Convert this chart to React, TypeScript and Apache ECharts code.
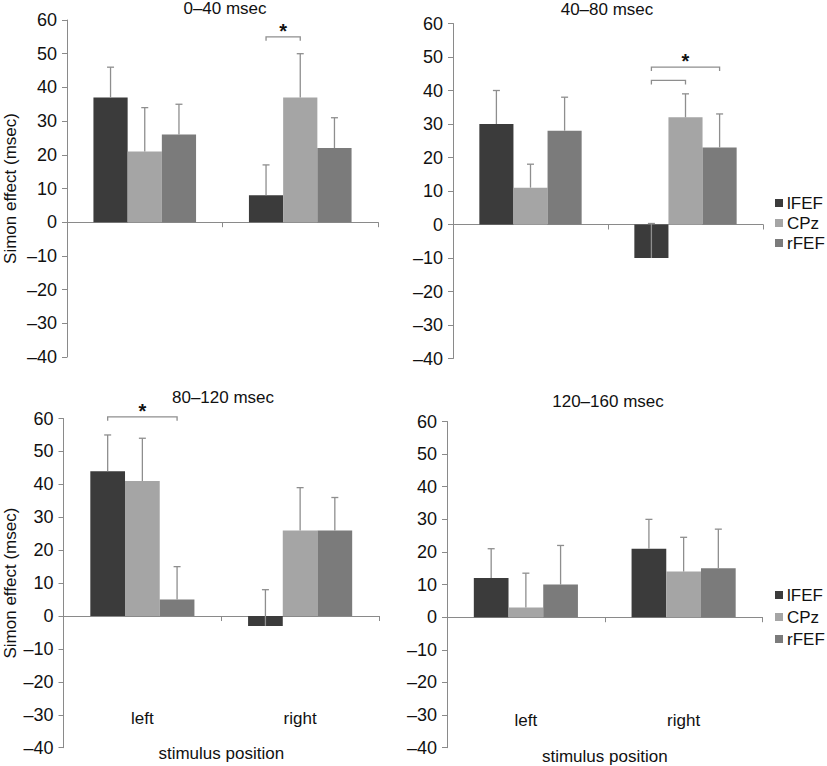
import React, { useEffect, useRef } from "react";
import * as echarts from "echarts";

// ---------- data ----------
const categories = ["left", "right"];
const seriesNames = ["lFEF", "CPz", "rFEF"];
const seriesColors = ["#3b3b3b", "#a5a5a5", "#7b7b7b"];
const panelTitles = ["0–40 msec", "40–80 msec", "80–120 msec", "120–160 msec"];
const yTicks = { min: -40, max: 60, interval: 10 };

// mean values per panel: [lFEF, CPz, rFEF], each [left, right]
const p1Values = [[37, 8], [21, 37], [26, 22]];
const p2Values = [[30, -10], [11, 32], [28, 23]];
const p3Values = [[44, -3], [41, 26], [5, 26]];
const p4Values = [[12, 21], [3, 14], [10, 15]];
// upper end of error bar per panel
const p1ErrTop = [[46, 17], [34, 50], [35, 31]];
const p2ErrTop = [[40, 0.3], [18, 39], [38, 33]];
const p3ErrTop = [[55, 8], [54, 39], [15, 36]];
const p4ErrTop = [[21, 30], [13.5, 24.5], [22, 27]];
// significance brackets: [category, fromSeries, toSeries, level, star(1/0)]
const p1Brackets = [[1, 0, 1, 55, 1]];
const p2Brackets = [[1, 0, 2, 47, 1], [1, 0, 1, 43, 0]];
const p3Brackets = [[0, 0, 2, 60.5, 1]];
const p4Brackets: number[][] = [];

const panelValues = [p1Values, p2Values, p3Values, p4Values];
const panelErrTop = [p1ErrTop, p2ErrTop, p3ErrTop, p4ErrTop];
const panelBrackets = [p1Brackets, p2Brackets, p3Brackets, p4Brackets];

// ---------- layout / style ----------
const FONT = "'Liberation Sans', Arial, sans-serif";
const AXIS_COLOR = "#8a8a8a";
const TEXT_COLOR = "#111";
const CAT_GAP = 0.34;

const grids = [
  { left: 67, top: 20, width: 311, height: 337 },
  { left: 453, top: 23.5, width: 310, height: 335 },
  { left: 63.5, top: 418.5, width: 315.5, height: 329.2 },
  { left: 447, top: 421.5, width: 315.5, height: 326.2 },
];
const titlePos = [
  { x: 225, y: 0 },
  { x: 607, y: 1 },
  { x: 223, y: 389 },
  { x: 608, y: 392.5 },
];
const xLabelMargin = [0, 0, -38, -36];
const xNameGap = [0, 0, -3, 0];
const yNameGap = [48, 0, 45, 0];

function barCenter(api: any, cat: number, s: number) {
  const base = api.coord([cat, 0]);
  const bw = (api.size([1, 0])[0] * (1 - CAT_GAP)) / 3;
  return base[0] + (s - 1) * bw;
}

function buildOption() {
  const xAxis: any[] = [];
  const yAxis: any[] = [];
  const series: any[] = [];
  const title: any[] = [];

  for (let p = 0; p < 4; p++) {
    const bottom = p >= 2;
    const leftCol = p % 2 === 0;
    xAxis.push({
      type: "category",
      gridIndex: p,
      data: categories,
      axisLine: { onZero: true, lineStyle: { color: AXIS_COLOR, width: 1 } },
      axisTick: { show: true, length: 5, lineStyle: { color: AXIS_COLOR } },
      axisLabel: {
        show: bottom,
        margin: xLabelMargin[p],
        fontSize: 17,
        color: TEXT_COLOR,
        fontFamily: FONT,
      },
      name: bottom ? "stimulus position" : "",
      nameLocation: "middle",
      nameGap: xNameGap[p],
      nameTextStyle: { fontSize: 17, color: TEXT_COLOR, fontFamily: FONT },
    });
    yAxis.push({
      type: "value",
      gridIndex: p,
      min: yTicks.min,
      max: yTicks.max,
      interval: yTicks.interval,
      axisLine: { show: true, lineStyle: { color: AXIS_COLOR, width: 1 } },
      axisTick: { show: true, length: 5, lineStyle: { color: AXIS_COLOR } },
      splitLine: { show: false },
      axisLabel: {
        margin: 10,
        fontSize: 18,
        color: TEXT_COLOR,
        fontFamily: FONT,
        formatter: (v: number) => (v < 0 ? "–" + Math.abs(v) : String(v)),
      },
      name: leftCol ? "Simon effect (msec)" : "",
      nameLocation: "middle",
      nameRotate: 90,
      nameGap: yNameGap[p],
      nameTextStyle: { fontSize: 17, color: TEXT_COLOR, fontFamily: FONT },
    });
    title.push({
      text: panelTitles[p],
      left: titlePos[p].x,
      top: titlePos[p].y,
      textAlign: "center",
      padding: 0,
      textStyle: { fontSize: 17, fontWeight: "normal", color: TEXT_COLOR, fontFamily: FONT },
    });

    for (let s = 0; s < 3; s++) {
      series.push({
        type: "bar",
        name: seriesNames[s],
        xAxisIndex: p,
        yAxisIndex: p,
        data: panelValues[p][s],
        barGap: "0%",
        barCategoryGap: (CAT_GAP * 100) + "%",
        itemStyle: { color: seriesColors[s] },
        z: 2,
      });
    }

    const errData: number[][] = [];
    for (let s = 0; s < 3; s++) {
      for (let c = 0; c < categories.length; c++) {
        errData.push([c, s, panelValues[p][s][c], panelErrTop[p][s][c]]);
      }
    }
    series.push({
      type: "custom",
      xAxisIndex: p,
      yAxisIndex: p,
      z: 3,
      silent: true,
      encode: { x: 0, y: [2, 3] },
      data: errData,
      renderItem: (params: any, api: any) => {
        const c = api.value(0);
        const s = api.value(1);
        const x = barCenter(api, c, s);
        const y1 = api.coord([c, api.value(2)])[1];
        const y2 = api.coord([c, api.value(3)])[1];
        const st = { stroke: "#8e8e8e", lineWidth: 1.3 };
        return {
          type: "group",
          children: [
            { type: "line", shape: { x1: x, y1: y1, x2: x, y2: y2 }, style: st },
            { type: "line", shape: { x1: x - 3.5, y1: y2, x2: x + 3.5, y2: y2 }, style: st },
          ],
        };
      },
    });

    if (panelBrackets[p].length) {
      series.push({
        type: "custom",
        xAxisIndex: p,
        yAxisIndex: p,
        z: 4,
        silent: true,
        clip: false,
        encode: { x: 0, y: 3 },
        data: panelBrackets[p],
        renderItem: (params: any, api: any) => {
          const c = api.value(0);
          const xa = barCenter(api, c, api.value(1));
          const xb = barCenter(api, c, api.value(2));
          const y = api.coord([c, api.value(3)])[1];
          const st = { stroke: "#8e8e8e", lineWidth: 1.3, fill: null };
          const children: any[] = [
            {
              type: "polyline",
              shape: { points: [[xa, y + 4], [xa, y], [xb, y], [xb, y + 4]] },
              style: st,
            },
          ];
          if (api.value(4)) {
            children.push({
              type: "text",
              style: {
                text: "*",
                x: (xa + xb) / 2,
                y: y - 6,
                align: "center",
                verticalAlign: "middle",
                fontSize: 20,
                fontWeight: "bold",
                fill: TEXT_COLOR,
                fontFamily: FONT,
              },
            });
          }
          return { type: "group", children };
        },
      });
    }
  }

  const legendBase = {
    orient: "vertical",
    left: 775,
    padding: 0,
    icon: "rect",
    itemWidth: 8,
    itemHeight: 8,
    data: seriesNames,
    selectedMode: false,
    textStyle: { fontSize: 17, color: TEXT_COLOR, fontFamily: FONT, padding: [0, 0, 0, -1] },
  };

  return {
    animation: false,
    backgroundColor: "#ffffff",
    textStyle: { fontFamily: FONT },
    title,
    grid: grids.map((g) => ({ ...g, containLabel: false, outerBoundsMode: "none" })),
    xAxis,
    yAxis,
    legend: [
      { ...legendBase, top: 194.5, itemGap: 3 },
      { ...legendBase, top: 586.5, itemGap: 5 },
    ],
    series,
  };
}

export default function App() {
  const ref = useRef<HTMLDivElement>(null);
  useEffect(() => {
    if (!ref.current) return;
    const chart = echarts.init(ref.current, undefined, { renderer: "svg" });
    chart.setOption(buildOption() as any);
    return () => chart.dispose();
  }, []);
  return (
    <div
      ref={ref}
      style={{ position: "fixed", left: 0, top: 0, width: 827, height: 766, background: "#fff" }}
    />
  );
}
